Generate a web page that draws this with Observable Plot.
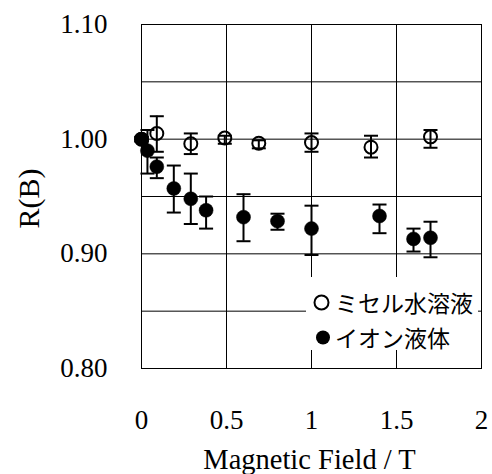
<!DOCTYPE html>
<html><head><meta charset="utf-8">
<script src="https://cdn.jsdelivr.net/npm/d3@7"></script>
<script src="https://cdn.jsdelivr.net/npm/@observablehq/plot@0.6"></script>
<style>
body{margin:0;background:#fff}
#wrap{position:relative;width:492px;height:474px;overflow:hidden}
#wrap svg text{font-family:"Liberation Serif","Times New Roman",serif}
#legend{position:absolute;left:306px;top:277px;width:172px;height:73px;background:#fff;color:#000;font-family:"Noto Sans CJK JP","Noto Sans CJK SC",sans-serif;font-size:23px}
#legend .row{position:absolute;left:0;height:25px;line-height:25px;white-space:nowrap}
#legend .lab{position:absolute;left:29px;top:0}
#legend svg{position:absolute;top:0}
</style></head><body><div id="wrap"></div>
<script>
// Series names, axis labels, ticks
const seriesNames = ["ミセル水溶液", "イオン液体"];
const xLabel = "Magnetic Field / T";
const yLabel = "R(B)";
const xTicks = [0, 0.5, 1, 1.5, 2];
const yTicks = [0.8, 0.9, 1.0, 1.1];
const xGrid = [0.5, 1, 1.5];
const yGrid = [0.85, 0.9, 0.95, 1.0, 1.05];

// Micelle aqueous solution (open circles)
const micelleB  = [0, 0.09, 0.29, 0.49, 0.69, 1.0, 1.35, 1.70];
const micelleR  = [1.000, 1.005, 0.996, 1.001, 0.9965, 0.997, 0.993, 1.002];
const micelleHi = [1.002, 1.020, 1.005, 1.003, 0.999, 1.005, 1.003, 1.008];
const micelleLo = [0.998, 0.989, 0.987, 0.996, 0.992, 0.989, 0.984, 0.9925];

// Ionic liquid (filled circles)
const ionicB  = [0, 0.035, 0.09, 0.19, 0.29, 0.38, 0.60, 0.80, 1.0, 1.40, 1.60, 1.70];
const ionicR  = [1.000, 0.990, 0.976, 0.957, 0.948, 0.938, 0.932, 0.9285, 0.922, 0.933, 0.913, 0.914];
const ionicHi = [1.002, 1.008, 0.984, 0.977, 0.970, 0.950, 0.952, 0.935, 0.942, 0.943, 0.922, 0.928];
const ionicLo = [0.998, 0.970, 0.966, 0.936, 0.926, 0.922, 0.911, 0.921, 0.899, 0.918, 0.902, 0.897];

const micelle = micelleB.map((B, i) => ({B, R: micelleR[i], lo: micelleLo[i], hi: micelleHi[i]}));
const ionic = ionicB.map((B, i) => ({B, R: ionicR[i], lo: ionicLo[i], hi: ionicHi[i]}));
const both = micelle.concat(ionic);

const cap = {draw(ctx) { ctx.moveTo(-7, 0); ctx.lineTo(7, 0); }};
const serif = "Liberation Serif";

const chart = Plot.plot({
  width: 492,
  height: 474,
  marginLeft: 141,
  marginRight: 11,
  marginTop: 24,
  marginBottom: 106,
  style: {fontFamily: serif, fontSize: "27px", color: "#000", background: "#fff"},
  x: {domain: [0, 2]},
  y: {domain: [0.8, 1.1]},
  marks: [
    Plot.gridX(xGrid, {stroke: "#000", strokeOpacity: 1}),
    Plot.gridY(yGrid, {stroke: "#000", strokeOpacity: 1}),
    Plot.frame({stroke: "#000"}),
    Plot.axisX({ticks: xTicks, tickSize: 0, tickPadding: 41, tickFormat: d => String(d), label: null, fontFamily: serif, fontSize: 27}),
    Plot.axisY({ticks: yTicks, tickSize: 0, tickPadding: 34, tickFormat: d3.format(".2f"), label: null, fontFamily: serif, fontSize: 27}),
    Plot.ruleX(both, {x: "B", y1: "lo", y2: "hi", stroke: "#000", strokeWidth: 2}),
    Plot.dot(both, {x: "B", y: "hi", symbol: cap, fill: "none", stroke: "#000", strokeWidth: 2}),
    Plot.dot(both, {x: "B", y: "lo", symbol: cap, fill: "none", stroke: "#000", strokeWidth: 2}),
    Plot.dot(micelle, {x: "B", y: "R", r: 6.5, fill: "none", stroke: "#000", strokeWidth: 2}),
    Plot.dot(ionic, {x: "B", y: "R", r: 7, fill: "#000", stroke: "#000", strokeWidth: 0.5}),
    Plot.text([xLabel], {frameAnchor: "bottom", lineAnchor: "bottom", dy: 100, dx: -2, fontSize: 28.5, fontFamily: serif}),
    Plot.text([yLabel], {frameAnchor: "left", rotate: -90, dx: -112, dy: 2, textAnchor: "middle", lineAnchor: "middle", fontSize: 30, fontFamily: serif})
  ]
});
const wrap = document.getElementById("wrap");
wrap.appendChild(chart);

const legend = document.createElement("div");
legend.id = "legend";
legend.innerHTML =
  `<div class="row" style="top:13px;width:172px">
     <svg width="30" height="25" style="left:0"><circle cx="15.5" cy="12.5" r="7" fill="none" stroke="#000" stroke-width="2"/></svg>
     <span class="lab">${seriesNames[0]}</span></div>
   <div class="row" style="top:48px;width:172px">
     <svg width="30" height="25" style="left:0"><circle cx="17" cy="12.5" r="7" fill="#000"/></svg>
     <span class="lab">${seriesNames[1]}</span></div>`;
wrap.appendChild(legend);
</script>
</body></html>
